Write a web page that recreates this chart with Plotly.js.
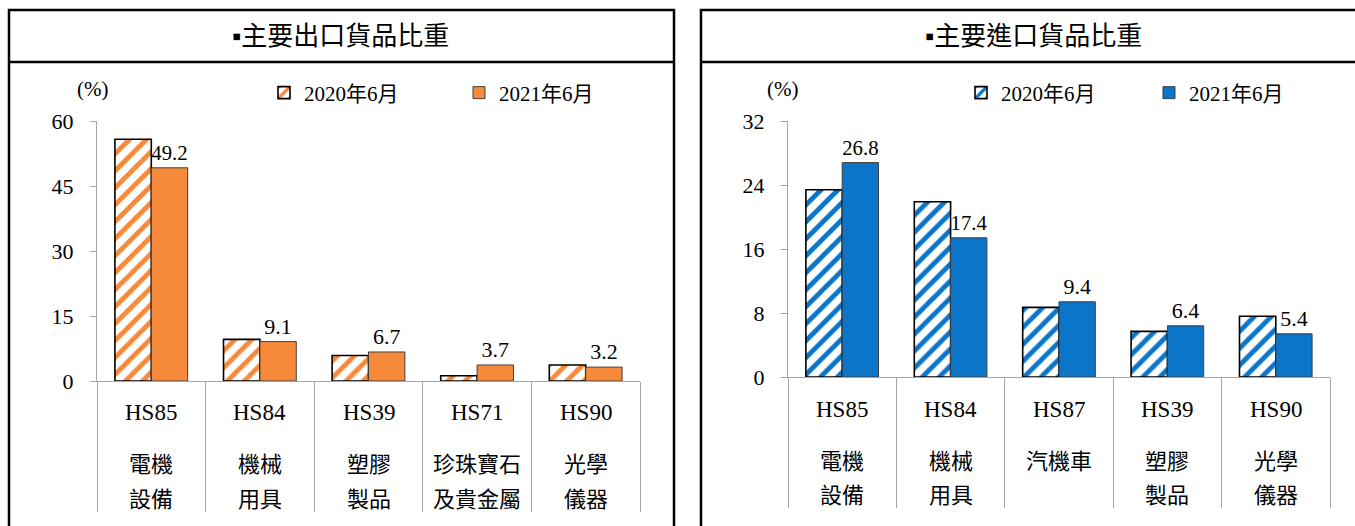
<!DOCTYPE html>
<html>
<head>
<meta charset="utf-8">
<script src="https://cdn.plot.ly/plotly-3.0.1.min.js"></script>
<style>
  html, body { margin: 0; padding: 0; background: #ffffff; }
  #chart { width: 1355px; height: 526px; }
</style>
</head>
<body>
<div id="chart"></div>
<script>
// ---------- data ----------
const exportCats   = ['HS85', 'HS84', 'HS39', 'HS71', 'HS90'];
const exportName1  = ['電機', '機械', '塑膠', '珍珠寶石', '光學'];
const exportName2  = ['設備', '用具', '製品', '及貴金屬', '儀器'];
const export2020   = [55.8, 9.6, 5.9, 1.2, 3.7];
const export2021   = [49.2, 9.1, 6.7, 3.7, 3.2];
const exportTicks  = [0, 15, 30, 45, 60];

const importCats   = ['HS85', 'HS84', 'HS87', 'HS39', 'HS90'];
const importName1  = ['電機', '機械', '汽機車', '塑膠', '光學'];
const importName2  = ['設備', '用具', '', '製品', '儀器'];
const import2020   = [23.4, 21.9, 8.7, 5.7, 7.6];
const import2021   = [26.8, 17.4, 9.4, 6.4, 5.4];
const importTicks  = [0, 8, 16, 24, 32];

const seriesNames  = ['2020年6月', '2021年6月'];
const exportTitle  = '▪主要出口貨品比重';
const importTitle  = '▪主要進口貨品比重';
const unitLabel    = '(%)';

// ---------- styling ----------
const W = 1355, H = 526;
const X = p => p / W;
const Y = p => 1 - p / H;
const SERIF = 'Liberation Serif, DejaVu Serif, Noto Sans CJK TC, serif';
const CJK = 'Liberation Serif, Noto Sans CJK TC, sans-serif';
const ORANGE = '#F68A3A';
const BLUE = '#0A75C9';
const AXIS = '#a6a6a6';

function hatched(color) {
  return {
    color: '#ffffff',
    pattern: { shape: '/', fgcolor: color, bgcolor: '#ffffff', size: 12, solidity: 0.4, fillmode: 'replace' },
    line: { color: '#000000', width: 1.6 }
  };
}
function solid(color) {
  return { color: color, line: { color: '#3f3f3f', width: 1 } };
}

const traces = [
  { type: 'bar', x: exportCats, y: export2020, name: seriesNames[0], xaxis: 'x', yaxis: 'y',
    marker: hatched(ORANGE), legend: 'legend', hoverinfo: 'skip' },
  { type: 'bar', x: exportCats, y: export2021, name: seriesNames[1], xaxis: 'x', yaxis: 'y',
    marker: solid(ORANGE), legend: 'legend', texttemplate: '%{y:.1f}', textposition: 'outside',
    textfont: { family: SERIF, size: 22, color: '#000' }, cliponaxis: false, hoverinfo: 'skip' },
  { type: 'bar', x: importCats, y: import2020, name: seriesNames[0], xaxis: 'x2', yaxis: 'y2',
    marker: hatched(BLUE), legend: 'legend2', hoverinfo: 'skip' },
  { type: 'bar', x: importCats, y: import2021, name: seriesNames[1], xaxis: 'x2', yaxis: 'y2',
    marker: solid(BLUE), legend: 'legend2', texttemplate: '%{y:.1f}', textposition: 'outside',
    textfont: { family: SERIF, size: 22, color: '#000' }, cliponaxis: false, hoverinfo: 'skip' }
];

function xAxis(domain, anchor) {
  return {
    domain: domain, anchor: anchor, type: 'category',
    showline: true, linecolor: AXIS, linewidth: 1,
    ticks: 'outside', tickson: 'boundaries', ticklen: 130, tickcolor: AXIS, tickwidth: 1,
    showticklabels: false, showgrid: false, zeroline: false, fixedrange: true
  };
}
function yAxis(domain, anchor, range, ticks) {
  return {
    domain: domain, anchor: anchor, range: range, tickvals: ticks,
    showline: true, linecolor: AXIS, linewidth: 1,
    ticks: 'outside', ticklen: 6, tickcolor: AXIS, tickwidth: 1,
    tickfont: { family: SERIF, size: 22, color: '#000' }, ticklabelstandoff: 12,
    showgrid: false, zeroline: false, fixedrange: true
  };
}

const shapes = [
  { type: 'rect', xref: 'paper', yref: 'paper', x0: X(9), x1: X(674), y0: Y(10), y1: Y(540), line: { color: '#000', width: 2.5 } },
  { type: 'line', xref: 'paper', yref: 'paper', x0: X(9), x1: X(674), y0: Y(62), y1: Y(62), line: { color: '#000', width: 2.5 } },
  { type: 'rect', xref: 'paper', yref: 'paper', x0: X(701), x1: X(1372), y0: Y(10), y1: Y(540), line: { color: '#000', width: 2.5 } },
  { type: 'line', xref: 'paper', yref: 'paper', x0: X(701), x1: X(1372), y0: Y(62), y1: Y(62), line: { color: '#000', width: 2.5 } }
];

const annotations = [];
function addText(text, x, y, font, xref) {
  annotations.push({ text: text, x: x, y: y, xref: xref || 'paper', yref: 'paper',
    xanchor: 'center', yanchor: 'middle', showarrow: false, font: font });
}
addText(exportTitle, X(341), Y(37), { family: CJK, size: 26, color: '#000' });
addText(importTitle, X(1033), Y(37), { family: CJK, size: 26, color: '#000' });
addText(unitLabel, X(92), Y(89), { family: SERIF, size: 21, color: '#000' });
addText(unitLabel, X(783), Y(89), { family: SERIF, size: 21, color: '#000' });

const catFont = { family: SERIF, size: 23, color: '#000' };
const cnFont = { family: CJK, size: 22, color: '#000' };
exportCats.forEach((c, i) => {
  addText(c, c, Y(412), catFont, 'x');
  addText(exportName1[i], c, Y(464), cnFont, 'x');
  if (exportName2[i]) addText(exportName2[i], c, Y(499), cnFont, 'x');
});
importCats.forEach((c, i) => {
  addText(c, c, Y(409), catFont, 'x2');
  addText(importName1[i], c, Y(461), cnFont, 'x2');
  if (importName2[i]) addText(importName2[i], c, Y(495), cnFont, 'x2');
});

const legendBase = {
  orientation: 'h', xanchor: 'left', yanchor: 'middle',
  font: { family: SERIF, size: 21, color: '#000' },
  bgcolor: 'rgba(0,0,0,0)', borderwidth: 0, itemwidth: 30,
  entrywidthmode: 'pixels', traceorder: 'normal', itemclick: false, itemdoubleclick: false
};

const layout = {
  width: W, height: H,
  margin: { l: 0, r: 0, t: 0, b: 0, pad: 0 },
  paper_bgcolor: '#ffffff', plot_bgcolor: 'rgba(0,0,0,0)',
  barmode: 'group', bargap: 0.33, bargroupgap: 0,
  showlegend: true,
  legend: Object.assign({}, legendBase, { x: X(264), y: Y(93), entrywidth: 150 }),
  legend2: Object.assign({}, legendBase, { x: X(961), y: Y(93), entrywidth: 143 }),
  xaxis: xAxis([X(97), X(640)], 'y'),
  yaxis: yAxis([Y(381), Y(121)], 'x', [0, 60], exportTicks),
  xaxis2: xAxis([X(788), X(1330)], 'y2'),
  yaxis2: yAxis([Y(377), Y(121)], 'x2', [0, 32], importTicks),
  shapes: shapes,
  annotations: annotations,
  hovermode: false
};

Plotly.newPlot('chart', traces, layout, { displayModeBar: false, staticPlot: true });
</script>
</body>
</html>
